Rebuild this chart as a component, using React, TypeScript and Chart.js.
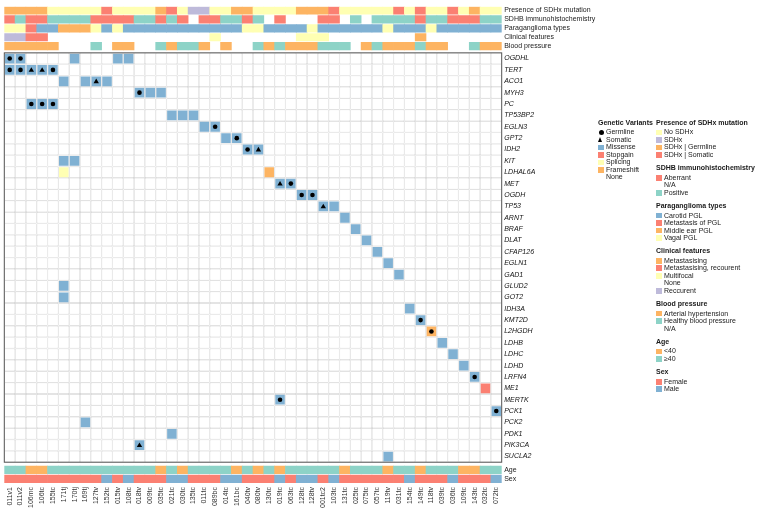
import React, { useEffect, useRef } from 'react';
import { Chart, registerables } from 'chart.js';

Chart.register(...registerables);

// ---------------- DATA ----------------
const samples = [
  '011v1', '011v2', '106mc', '106tc', '155tc', '171tj', '170tj', '169tj', '127tv', '152tc',
  '015tv', '108tc', '018tv', '009tc', '035tc', '021tc', '030tc', '135tc', '011tc', '089bc',
  '014tc', '161bc', '040tv', '080tv', '130tc', '019tc', '063tc', '128tc', '128tv', '001tc2',
  '103tc', '131tc', '025tc', '075tc', '057tc', '119tv', '031tc', '154tc', '149tc', '118tv',
  '039tc', '036tc', '109tc', '143tc', '032tc', '072tc',
];

const genes = [
  'OGDHL', 'TERT', 'ACO1', 'MYH3', 'PC', 'TP53BP2', 'EGLN3', 'GPT2', 'IDH2', 'KIT',
  'LDHAL6A', 'MET', 'OGDH', 'TP53', 'ARNT', 'BRAF', 'DLAT', 'CFAP126', 'EGLN1', 'GAD1',
  'GLUD2', 'GOT2', 'IDH3A', 'KMT2D', 'L2HGDH', 'LDHB', 'LDHC', 'LDHD', 'LRFN4', 'ME1',
  'MERTK', 'PCK1', 'PCK2', 'PDK1', 'PIK3CA', 'SUCLA2',
];

const topTrackNames = [
  'Presence of SDHx mutation', 'SDHB immunohistochemistry', 'Paraganglioma types',
  'Clinical features', 'Blood pressure',
];
const bottomTrackNames = ['Age', 'Sex'];

// Presence of SDHx mutation: N = No SDHx, X = SDHx, G = SDHx | Germline, S = SDHx | Somatic
const presence = [
  'G', 'G', 'G', 'G', 'N', 'N', 'N', 'N', 'N', 'S',
  'N', 'N', 'N', 'N', 'G', 'S', 'N', 'X', 'X', 'N',
  'N', 'G', 'G', 'N', 'N', 'N', 'N', 'G', 'G', 'G',
  'S', 'N', 'N', 'N', 'N', 'N', 'S', 'N', 'S', 'N',
  'N', 'S', 'N', 'G', 'N', 'N',
];
// SDHB immunohistochemistry: A = Aberrant, P = Positive, - = N/A
const sdhb = [
  'A', 'P', 'A', 'A', 'P', 'P', 'P', 'P', 'A', 'A',
  'A', 'A', 'P', 'P', 'A', 'P', 'A', '-', 'A', 'A',
  'P', 'P', 'A', 'P', '-', 'A', '-', '-', '-', 'A',
  'A', '-', 'P', '-', 'P', 'P', 'P', 'P', 'A', 'P',
  'P', 'A', 'A', 'A', 'P', 'P',
];
// Paraganglioma types: C = Carotid, M = Metastasis, E = Middle ear, V = Vagal
const pglType = [
  'V', 'V', 'M', 'C', 'C', 'E', 'E', 'E', 'V', 'C',
  'V', 'C', 'C', 'C', 'C', 'C', 'C', 'C', 'C', 'C',
  'C', 'C', 'V', 'V', 'C', 'C', 'C', 'C', 'V', 'C',
  'C', 'C', 'C', 'C', 'C', 'V', 'C', 'C', 'C', 'V',
  'C', 'C', 'C', 'C', 'C', 'C',
];
// Clinical features: T = Metastasising, K = Metastasising recourent, F = Multifocal, R = Reccurent, - = None
const clinical = [
  'R', 'R', 'K', 'K', '-', '-', '-', '-', '-', '-',
  '-', '-', '-', '-', '-', '-', '-', '-', '-', 'F',
  '-', '-', '-', '-', '-', '-', '-', 'F', 'F', 'F',
  '-', '-', '-', '-', '-', '-', '-', '-', 'T', '-',
  '-', '-', '-', '-', '-', '-',
];
// Blood pressure: H = Arterial hypertension, B = Healthy, - = N/A
const bloodPressure = [
  'H', 'H', 'H', 'H', 'H', '-', '-', '-', 'B', '-',
  'H', 'H', '-', '-', 'B', 'H', 'B', 'B', 'H', '-',
  'H', '-', '-', 'B', 'H', 'B', 'H', 'H', 'H', 'B',
  'B', 'B', '-', 'H', 'B', 'H', 'H', 'H', 'B', 'H',
  'H', '-', '-', 'B', 'H', 'H',
];
// Age: Y = <40, O = ≥40
const age = [
  'O', 'O', 'Y', 'Y', 'O', 'O', 'O', 'O', 'O', 'O',
  'O', 'O', 'O', 'O', 'Y', 'O', 'Y', 'O', 'O', 'O',
  'O', 'Y', 'O', 'Y', 'O', 'Y', 'O', 'O', 'O', 'O',
  'O', 'Y', 'O', 'O', 'O', 'Y', 'O', 'O', 'Y', 'O',
  'O', 'O', 'Y', 'Y', 'O', 'O',
];
// Sex: F = Female, M = Male
const sex = [
  'F', 'F', 'F', 'F', 'F', 'F', 'F', 'F', 'F', 'M',
  'F', 'M', 'F', 'F', 'F', 'M', 'M', 'F', 'F', 'F',
  'M', 'M', 'F', 'F', 'F', 'M', 'F', 'M', 'M', 'F',
  'M', 'F', 'F', 'F', 'F', 'F', 'F', 'M', 'F', 'F',
  'F', 'M', 'F', 'F', 'F', 'M',
];

// Genetic variants: [gene, sample, variant type, origin]
const variants: [string, string, string, string][] = [
  ['OGDHL', '011v1', 'Missense', 'Germline'],
  ['OGDHL', '011v2', 'Missense', 'Germline'],
  ['OGDHL', '170tj', 'Missense', ''],
  ['OGDHL', '015tv', 'Missense', ''],
  ['OGDHL', '108tc', 'Missense', ''],
  ['TERT', '011v1', 'Missense', 'Germline'],
  ['TERT', '011v2', 'Missense', 'Germline'],
  ['TERT', '106mc', 'Missense', 'Somatic'],
  ['TERT', '106tc', 'Missense', 'Somatic'],
  ['TERT', '155tc', 'Missense', 'Germline'],
  ['ACO1', '171tj', 'Missense', ''],
  ['ACO1', '169tj', 'Missense', ''],
  ['ACO1', '127tv', 'Missense', 'Somatic'],
  ['ACO1', '152tc', 'Missense', ''],
  ['MYH3', '018tv', 'Missense', 'Germline'],
  ['MYH3', '009tc', 'Missense', ''],
  ['MYH3', '035tc', 'Missense', ''],
  ['PC', '106mc', 'Missense', 'Germline'],
  ['PC', '106tc', 'Missense', 'Germline'],
  ['PC', '155tc', 'Missense', 'Germline'],
  ['TP53BP2', '021tc', 'Missense', ''],
  ['TP53BP2', '030tc', 'Missense', ''],
  ['TP53BP2', '135tc', 'Missense', ''],
  ['EGLN3', '011tc', 'Missense', ''],
  ['EGLN3', '089bc', 'Missense', 'Germline'],
  ['GPT2', '014tc', 'Missense', ''],
  ['GPT2', '161bc', 'Missense', 'Germline'],
  ['IDH2', '040tv', 'Missense', 'Germline'],
  ['IDH2', '080tv', 'Missense', 'Somatic'],
  ['KIT', '171tj', 'Missense', ''],
  ['KIT', '170tj', 'Missense', ''],
  ['LDHAL6A', '171tj', 'Splicing', ''],
  ['LDHAL6A', '130tc', 'Frameshift', ''],
  ['MET', '019tc', 'Missense', 'Somatic'],
  ['MET', '063tc', 'Missense', 'Germline'],
  ['OGDH', '128tc', 'Missense', 'Germline'],
  ['OGDH', '128tv', 'Missense', 'Germline'],
  ['TP53', '001tc2', 'Missense', 'Somatic'],
  ['TP53', '103tc', 'Missense', ''],
  ['ARNT', '131tc', 'Missense', ''],
  ['BRAF', '025tc', 'Missense', ''],
  ['DLAT', '075tc', 'Missense', ''],
  ['CFAP126', '057tc', 'Missense', ''],
  ['EGLN1', '119tv', 'Missense', ''],
  ['GAD1', '031tc', 'Missense', ''],
  ['GLUD2', '171tj', 'Missense', ''],
  ['GOT2', '171tj', 'Missense', ''],
  ['IDH3A', '154tc', 'Missense', ''],
  ['KMT2D', '149tc', 'Missense', 'Germline'],
  ['L2HGDH', '118tv', 'Frameshift', 'Germline'],
  ['LDHB', '039tc', 'Missense', ''],
  ['LDHC', '036tc', 'Missense', ''],
  ['LDHD', '109tc', 'Missense', ''],
  ['LRFN4', '143tc', 'Missense', 'Germline'],
  ['ME1', '032tc', 'Stopgain', ''],
  ['MERTK', '019tc', 'Missense', 'Germline'],
  ['PCK1', '072tc', 'Missense', 'Germline'],
  ['PCK2', '169tj', 'Missense', ''],
  ['PDK1', '021tc', 'Missense', ''],
  ['PIK3CA', '018tv', 'Missense', 'Somatic'],
  ['SUCLA2', '119tv', 'Missense', ''],
];

// ---------------- STYLE ----------------
const C = {
  yellow: '#FFFFB3', purple: '#BEBADA', orange: '#FDB462',
  red: '#FB8072', blue: '#80B1D3', teal: '#8DD3C7',
};
const FONT = '"Liberation Sans", Arial, Helvetica, sans-serif';

const presenceColors: Record<string, string> = { N: C.yellow, X: C.purple, G: C.orange, S: C.red };
const sdhbColors: Record<string, string> = { A: C.red, P: C.teal };
const pglColors: Record<string, string> = { C: C.blue, M: C.red, E: C.orange, V: C.yellow };
const clinicalColors: Record<string, string> = { T: C.orange, K: C.red, F: C.yellow, R: C.purple };
const bpColors: Record<string, string> = { H: C.orange, B: C.teal };
const ageColors: Record<string, string> = { Y: C.orange, O: C.teal };
const sexColors: Record<string, string> = { F: C.red, M: C.blue };
const variantColors: Record<string, string> = {
  Missense: C.blue, Stopgain: C.red, Splicing: C.yellow, Frameshift: C.orange,
};

// layout (y units = px inside chart area)
const TRACK_PITCH = 9;
const TRACK_H = 7.6;
const MATRIX_TOP = 46.5;
const ROW_H = 11.46;
const BOTTOM_TOP = 463;
const Y_MAX = 481;

const legendVariants: [string, string][] = [
  ['Germline', 'circle'], ['Somatic', 'triangle'], ['Missense', C.blue],
  ['Stopgain', C.red], ['Splicing', C.yellow], ['Frameshift', C.orange], ['None', ''],
];
const legendGroups: { title: string; items: [string, string][] }[] = [
  { title: 'Presence of SDHx mutation', items: [['No SDHx', C.yellow], ['SDHx', C.purple], ['SDHx | Germline', C.orange], ['SDHx | Somatic', C.red]] },
  { title: 'SDHB immunohistochemistry', items: [['Aberrant', C.red], ['N/A', ''], ['Positive', C.teal]] },
  { title: 'Paraganglioma types', items: [['Carotid PGL', C.blue], ['Metastasis of PGL', C.red], ['Middle ear PGL', C.orange], ['Vagal PGL', C.yellow]] },
  { title: 'Clinical features', items: [['Metastasising', C.orange], ['Metastasising, recourent', C.red], ['Multifocal', C.yellow], ['None', ''], ['Reccurent', C.purple]] },
  { title: 'Blood pressure', items: [['Arterial hypertension', C.orange], ['Healthy blood pressure', C.teal], ['N/A', '']] },
  { title: 'Age', items: [['<40', C.orange], ['\u226540', C.teal]] },
  { title: 'Sex', items: [['Female', C.red], ['Male', C.blue]] },
];

function trackDataset(codes: string[], colors: Record<string, string>, yTop: number) {
  const data: any[] = [];
  const bg: string[] = [];
  codes.forEach((c, i) => {
    if (colors[c]) {
      data.push({ x: samples[i], y: [yTop, yTop + TRACK_H] });
      bg.push(colors[c]);
    }
  });
  return {
    type: 'bar', data, backgroundColor: bg, borderWidth: 0, grouped: false,
    barPercentage: 1, categoryPercentage: 1, order: 5,
  };
}

const rowTop = (g: string) => MATRIX_TOP + genes.indexOf(g) * ROW_H;

const outlinePlugin = {
  id: 'matrixOutline',
  afterDatasetsDraw(chart: any) {
    const { ctx, chartArea, scales } = chart;
    const y = scales.y;
    const t = y.getPixelForValue(MATRIX_TOP);
    const b = y.getPixelForValue(MATRIX_TOP + genes.length * ROW_H);
    ctx.save();
    ctx.strokeStyle = '#555555';
    ctx.lineWidth = 1;
    ctx.strokeRect(chartArea.left, t, chartArea.right - chartArea.left, b - t);
    ctx.restore();
  },
};

export default function App() {
  const ref = useRef<HTMLCanvasElement>(null);

  useEffect(() => {
    if (!ref.current) return;

    const datasets: any[] = [];

    // germline dots and somatic triangles (on top)
    datasets.push({
      type: 'line', showLine: false, order: 0,
      data: variants.filter((v) => v[3] === 'Germline').map((v) => ({ x: v[1], y: rowTop(v[0]) + ROW_H / 2 })),
      pointStyle: 'circle', pointRadius: 2.3, pointBackgroundColor: '#000', pointBorderWidth: 0,
    });
    datasets.push({
      type: 'line', showLine: false, order: 0,
      data: variants.filter((v) => v[3] === 'Somatic').map((v) => ({ x: v[1], y: rowTop(v[0]) + ROW_H / 2 + 0.4 })),
      pointStyle: 'triangle', pointRadius: 3.1, pointBackgroundColor: '#000', pointBorderWidth: 0,
    });

    // variant cells
    Object.keys(variantColors).forEach((t) => {
      const list = variants.filter((v) => v[2] === t);
      if (!list.length) return;
      datasets.push({
        type: 'bar', order: 1, grouped: false, barPercentage: 0.88, categoryPercentage: 1,
        backgroundColor: variantColors[t], borderWidth: 0,
        data: list.map((v) => ({ x: v[1], y: [rowTop(v[0]) + 0.8, rowTop(v[0]) + ROW_H - 0.8] })),
      });
    });

    // background grid cells
    const bgData: any[] = [];
    genes.forEach((g) => samples.forEach((s) => bgData.push({ x: s, y: [rowTop(g), rowTop(g) + ROW_H] })));
    datasets.push({
      type: 'bar', order: 3, grouped: false, barPercentage: 1, categoryPercentage: 1,
      backgroundColor: '#ffffff', borderColor: '#cfcfcf', borderWidth: 0.65, borderSkipped: false,
      inflateAmount: 0, data: bgData,
    });

    // annotation tracks
    const topTracks = [
      [presence, presenceColors], [sdhb, sdhbColors], [pglType, pglColors],
      [clinical, clinicalColors], [bloodPressure, bpColors],
    ] as [string[], Record<string, string>][];
    topTracks.forEach(([codes, cols], i) => datasets.push(trackDataset(codes, cols, i * TRACK_PITCH)));
    const bottomTracks = [[age, ageColors], [sex, sexColors]] as [string[], Record<string, string>][];
    bottomTracks.forEach(([codes, cols], i) => datasets.push(trackDataset(codes, cols, BOTTOM_TOP + i * TRACK_PITCH)));

    const tickValues: number[] = [];
    const tickLabels: string[] = [];
    const tickItalic: boolean[] = [];
    topTrackNames.forEach((n, i) => { tickValues.push(i * TRACK_PITCH + TRACK_H / 2); tickLabels.push(n); tickItalic.push(false); });
    genes.forEach((g, j) => { tickValues.push(MATRIX_TOP + (j + 0.5) * ROW_H); tickLabels.push(g); tickItalic.push(true); });
    bottomTrackNames.forEach((n, i) => { tickValues.push(BOTTOM_TOP + i * TRACK_PITCH + TRACK_H / 2); tickLabels.push(n); tickItalic.push(false); });

    const chart = new Chart(ref.current, {
      type: 'bar',
      data: { labels: samples, datasets },
      options: {
        animation: false,
        responsive: false,
        events: [],
        layout: { padding: { left: 4.3, right: 155.3, top: 3, bottom: 0 } },
        plugins: { legend: { display: false }, tooltip: { enabled: false } },
        scales: {
          x: {
            type: 'category',
            offset: true,
            grid: { display: false, drawTicks: false },
            border: { display: false },
            ticks: {
              autoSkip: false, minRotation: 90, maxRotation: 90, padding: 3,
              color: '#333333', font: { family: FONT, size: 7 },
            },
            afterFit: (s: any) => { s.height = 24; },
          },
          y: {
            type: 'linear',
            position: 'right',
            reverse: true,
            min: 0,
            max: Y_MAX,
            grid: { display: false, drawTicks: false },
            border: { display: false },
            afterBuildTicks: (s: any) => { s.ticks = tickValues.map((v) => ({ value: v })); },
            afterFit: (s: any) => { s.width = 100; },
            ticks: {
              autoSkip: false,
              padding: 2.5,
              color: (ctx: any) => (tickItalic[ctx.index] ? '#111111' : '#222222'),
              font: (ctx: any) => ({ family: FONT, size: 7, style: tickItalic[ctx.index] ? 'italic' : 'normal' }),
              callback: (_v: any, i: number) => tickLabels[i],
            },
          },
        },
      } as any,
      plugins: [outlinePlugin],
    });
    return () => chart.destroy();
  }, []);

  // legend layout
  const textStyle: React.CSSProperties = {
    position: 'absolute', fontFamily: FONT, fontSize: 7, lineHeight: '8px', color: '#1a1a1a', whiteSpace: 'nowrap',
  };
  const legendEls: React.ReactNode[] = [];
  const ITEM = 7.5;
  // Genetic variants column
  {
    const x = 598;
    let y = 123;
    legendEls.push(<div key="gv-t" style={{ ...textStyle, left: x, top: y - 4, fontWeight: 'bold' }}>Genetic Variants</div>);
    y += 9.4;
    legendVariants.forEach(([name, kind], i) => {
      if (kind === 'circle') {
        legendEls.push(<div key={'gvs' + i} style={{ position: 'absolute', left: x + 0.5, top: y - 2.6, width: 5.2, height: 5.2, borderRadius: '50%', background: '#000' }} />);
      } else if (kind === 'triangle') {
        legendEls.push(<div key={'gvs' + i} style={{ position: 'absolute', left: x + 0.3, top: y - 2.8, width: 0, height: 0, borderLeft: '2.8px solid transparent', borderRight: '2.8px solid transparent', borderBottom: '5.4px solid #000' }} />);
      } else if (kind) {
        legendEls.push(<div key={'gvs' + i} style={{ position: 'absolute', left: x, top: y - 2.9, width: 6, height: 5.8, background: kind }} />);
      }
      legendEls.push(<div key={'gv' + i} style={{ ...textStyle, left: x + 8, top: y - 4 }}>{name}</div>);
      y += ITEM;
    });
  }
  {
    const x = 656;
    let y = 123;
    legendGroups.forEach((g, gi) => {
      legendEls.push(<div key={'t' + gi} style={{ ...textStyle, left: x, top: y - 4, fontWeight: 'bold' }}>{g.title}</div>);
      y += 9.4;
      g.items.forEach(([name, col], ii) => {
        if (col) legendEls.push(<div key={`s${gi}-${ii}`} style={{ position: 'absolute', left: x, top: y - 2.9, width: 6, height: 5.8, background: col }} />);
        legendEls.push(<div key={`l${gi}-${ii}`} style={{ ...textStyle, left: x + 8, top: y - 4 }}>{name}</div>);
        y += ITEM;
      });
      y += 13.4 - ITEM;
    });
  }

  return (
    <div style={{ position: 'fixed', left: 0, top: 0, width: 757, height: 508, background: '#ffffff', overflow: 'hidden' }}>
      <canvas ref={ref} width={757} height={508} style={{ position: 'absolute', left: 0, top: 0, width: 757, height: 508 }} />
      {legendEls}
    </div>
  );
}
